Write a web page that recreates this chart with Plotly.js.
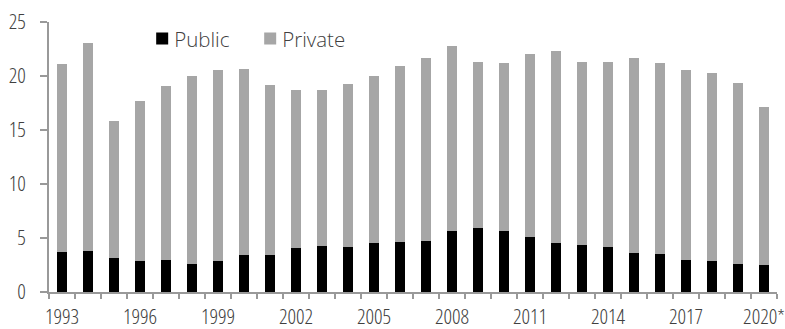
<!DOCTYPE html>
<html>
<head>
<meta charset="utf-8">
<script src="https://cdn.plot.ly/plotly-3.0.1.min.js"></script>
<style>html,body{margin:0;padding:0;background:#fff;}#chart{width:785px;height:329px;}
#chart .xtick text, #chart .ytick text{font-stretch:82% !important;}
#chart .legendtext{font-stretch:88% !important;}</style>
</head>
<body>
<div id="chart"></div>
<script>
const years = [1993,1994,1995,1996,1997,1998,1999,2000,2001,2002,2003,2004,2005,2006,2007,2008,2009,2010,2011,2012,2013,2014,2015,2016,2017,2018,2019,2020];
const yearLabels = ['1993','1994','1995','1996','1997','1998','1999','2000','2001','2002','2003','2004','2005','2006','2007','2008','2009','2010','2011','2012','2013','2014','2015','2016','2017','2018','2019','2020*'];
const publicVals = [3.7,3.77,3.12,2.84,2.99,2.59,2.9,3.4,3.4,4.1,4.26,4.2,4.54,4.63,4.72,5.65,5.93,5.65,5.09,4.54,4.35,4.17,3.61,3.49,2.96,2.87,2.62,2.47];
const totalVals = [21.14,23.08,15.8,17.7,19.07,20.03,20.56,20.62,19.17,18.73,18.7,19.26,19.97,20.93,21.67,22.8,21.3,21.2,22.07,22.31,21.3,21.3,21.63,21.23,20.52,20.31,19.32,17.1];
const privateVals = totalVals.map((t,i)=>+(t-publicVals[i]).toFixed(2));

const labelEvery = 3;
const tickYears = years.filter((y,i)=>i%labelEvery===0);
const tickText = yearLabels.filter((y,i)=>i%labelEvery===0);
const boundaries = years.map(y=>y-0.5).concat([years[years.length-1]+0.5]);

const FONT = 'Open Sans, Roboto, sans-serif';
const TXT = '#404040';
const AX = '#999999';

const data = [
  {type:'bar', name:'Public', x:years, y:publicVals, marker:{color:'#000000'}},
  {type:'bar', name:'Private', x:years, y:privateVals, marker:{color:'#a6a6a6'}}
];

const layout = {
  width:785, height:329,
  margin:{l:49, r:8, t:22, b:37},
  barmode:'stack', bargap:0.6,
  paper_bgcolor:'#fff', plot_bgcolor:'#fff',
  font:{family:FONT, color:TXT, size:21, weight:300},
  showlegend:true,
  legend:{orientation:'h', x:0.128, y:1.012, xanchor:'left', yanchor:'top',
          font:{family:FONT, size:20.5, color:TXT, weight:300}, bgcolor:'rgba(0,0,0,0)',
          traceorder:'normal', entrywidth:63, entrywidthmode:'pixels'},
  xaxis:{
    range:[years[0]-0.5, years[years.length-1]+0.5],
    tickmode:'array', tickvals:tickYears, ticktext:tickText,
    ticks:'outside', ticklen:5, tickcolor:'rgba(0,0,0,0)',
    ticklabeloverflow:'allow',
    showline:true, linecolor:AX, linewidth:2,
    showgrid:false, zeroline:false,
    tickfont:{family:FONT, size:21, color:TXT, weight:300},
    minor:{tickmode:'array', tickvals:boundaries, ticks:'outside', ticklen:5, tickcolor:AX, tickwidth:2, showgrid:false}
  },
  yaxis:{
    range:[0,25], dtick:5, tick0:0,
    ticks:'outside', ticklen:7, tickcolor:AX, tickwidth:2,
    ticklabelstandoff:10,
    showline:true, linecolor:AX, linewidth:2,
    showgrid:false, zeroline:false,
    tickfont:{family:FONT, size:21, color:TXT, weight:300}
  }
};

Plotly.newPlot('chart', data, layout, {displayModeBar:false, staticPlot:true}).then(function(){
  document.querySelectorAll('#chart .legendtext').forEach(function(t){ t.setAttribute('x', 32); });
});
</script>
</body>
</html>
